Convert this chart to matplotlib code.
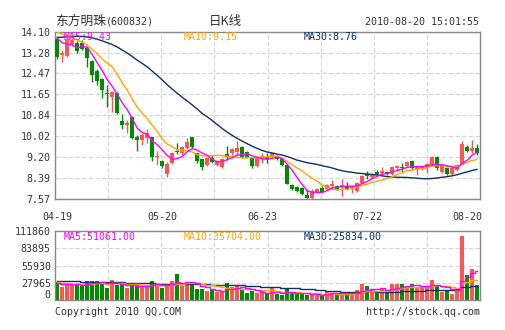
import matplotlib
matplotlib.use("Agg")
import matplotlib.pyplot as plt
import numpy as np
import pandas as pd

# daily candles 2010-04-19 .. 2010-08-20
opens = [13.81, 13.18, 13.15, 13.62, 13.66, 13.66, 13.46, 12.95, 12.56, 12.25,
         11.72, 11.54, 11.70, 10.60, 10.44, 10.76, 9.97, 9.86, 9.93, 9.97,
         9.19, 9.07, 8.56, 8.99, 9.46, 9.35, 9.54, 9.97, 9.35, 9.11,
         8.88, 9.15, 8.88, 8.80, 9.31, 9.35, 9.42, 9.58, 9.42, 9.20,
         8.84, 9.16, 9.20, 9.23, 9.23, 9.12, 8.88, 8.13, 8.05, 8.01,
         7.74, 7.62, 7.86, 8.01, 7.97, 8.09, 8.09, 8.05, 8.09, 7.97,
         7.90, 8.21, 8.56, 8.44, 8.64, 8.60, 8.64, 8.56, 8.76, 8.82,
         8.84, 9.07, 8.72, 8.76, 8.76, 8.91, 9.20, 8.64, 8.76, 8.56,
         8.72, 8.91, 9.58, 9.46, 9.54]
highs = [13.90, 13.38, 13.92, 13.85, 13.72, 13.78, 13.55, 13.00, 12.62, 12.30,
         12.02, 11.78, 11.75, 10.88, 10.64, 10.80, 10.05, 10.15, 10.29, 10.00,
         9.46, 9.10, 9.00, 9.40, 9.75, 9.62, 9.96, 9.99, 9.38, 9.14,
         9.20, 9.30, 9.10, 9.15, 9.62, 9.55, 9.82, 9.62, 9.46, 9.22,
         9.23, 9.38, 9.35, 9.40, 9.28, 9.16, 8.92, 8.17, 8.09, 8.05,
         7.97, 7.97, 8.01, 8.09, 8.17, 8.30, 8.13, 8.36, 8.25, 8.12,
         8.25, 8.52, 8.66, 8.60, 8.70, 8.80, 8.68, 8.84, 8.90, 8.98,
         9.04, 9.10, 8.84, 8.84, 8.99, 9.26, 9.23, 8.86, 8.80, 8.80,
         8.95, 9.85, 9.66, 9.86, 9.70]
lows = [13.03, 12.92, 13.12, 13.55, 13.25, 13.38, 12.72, 12.14, 12.01, 11.50,
        11.15, 10.95, 10.88, 10.30, 10.13, 9.90, 9.46, 9.66, 9.74, 9.07,
        8.88, 8.78, 8.44, 8.95, 9.33, 9.27, 9.50, 9.55, 8.96, 8.72,
        8.85, 8.96, 8.85, 8.76, 9.08, 9.30, 9.30, 9.18, 9.16, 8.78,
        8.80, 8.96, 8.98, 9.20, 9.10, 8.84, 8.15, 7.94, 7.83, 7.73,
        7.58, 7.58, 7.82, 7.84, 7.93, 7.97, 7.94, 7.70, 7.94, 7.80,
        7.86, 8.17, 8.36, 8.40, 8.50, 8.45, 8.52, 8.52, 8.72, 8.64,
        8.80, 8.72, 8.52, 8.70, 8.60, 8.86, 8.72, 8.60, 8.52, 8.52,
        8.68, 8.88, 9.40, 9.35, 9.30]
closes = [13.11, 13.28, 13.81, 13.78, 13.34, 13.42, 13.07, 12.40, 12.17, 11.82,
          11.68, 11.74, 10.91, 10.44, 10.52, 9.93, 9.86, 10.05, 10.13, 9.20,
          9.23, 8.84, 8.95, 9.35, 9.39, 9.58, 9.78, 9.58, 9.07, 8.80,
          9.15, 9.00, 9.07, 9.11, 9.20, 9.50, 9.54, 9.20, 9.20, 8.84,
          9.20, 9.23, 9.12, 9.35, 9.12, 8.88, 8.17, 7.97, 7.90, 7.78,
          7.62, 7.90, 7.97, 7.86, 8.13, 8.17, 7.97, 8.13, 7.97, 8.09,
          8.21, 8.48, 8.48, 8.56, 8.52, 8.68, 8.56, 8.80, 8.84, 8.79,
          9.00, 8.76, 8.80, 8.80, 8.95, 9.20, 8.76, 8.84, 8.56, 8.76,
          8.91, 9.70, 9.46, 9.54, 9.35]
volumes = [29600, 21300, 27500, 25600, 25100, 25100, 30900, 30900, 30900, 29300,
           19700, 32000, 25100, 25100, 19700, 24000, 24000, 24000, 22900, 30400,
           26700, 19700, 25100, 30400, 41600, 22900, 29300, 25600, 18700, 17600,
           14400, 17600, 13300, 14400, 27700, 21300, 22900, 17600, 11700, 14400,
           12300, 14400, 9600, 19700, 9600, 8000, 18700, 11700, 10700, 9600,
           8000, 9600, 9600, 9600, 14400, 11700, 9600, 13300, 9600, 10700,
           16000, 25600, 22400, 16000, 14400, 19700, 13300, 25600, 25600, 25600,
           22400, 25600, 21300, 22400, 22400, 32000, 24000, 13300, 14400, 10700,
           17600, 102900, 40000, 50700, 24000]

# sessions before the window, only used to warm up the moving averages
prior_closes = [13.10, 13.25, 13.40, 13.30, 13.55, 13.60, 13.50, 13.75, 13.70, 13.85,
                13.90, 13.80, 14.00, 13.95, 14.05, 14.10, 13.95, 14.15, 14.10, 14.20,
                14.30, 14.45, 14.40, 14.30, 14.30, 14.20, 14.05, 13.95, 13.90]
prior_volumes = [35000, 31000, 34000, 30500, 33000, 36000, 29500, 32000, 34500, 31000,
                 33500, 30000, 35500, 32500, 31500, 34000, 30500, 33000, 32000, 33000,
                 31000, 29500, 32000, 30000, 29500, 27000, 25500, 28000, 26000]

date_pos = [0, 21, 41, 62, 82]
date_labels = ["04-19", "05-20", "06-23", "07-22", "08-20"]
price_ticks = [7.57, 8.39, 9.20, 10.02, 10.84, 11.65, 12.47, 13.28, 14.10]
vol_ticks = [0, 27965, 55930, 83895, 111860]

RED = "#ff5555"
GREEN = "#008c00"
C_MA5 = "#ff00ff"
C_MA10 = "#ffa500"
C_MA30 = "#0a3366"
GRID = "#d4d4d4"
TXT = "#333333"
MONO = "DejaVu Sans Mono"
CJK = "Noto Sans CJK SC"

n = len(closes)
x = np.arange(n)
o = np.array(opens); c = np.array(closes)
up = c >= o
colors = [RED if u else GREEN for u in up]

cl = pd.Series(prior_closes + closes)
vo = pd.Series(prior_volumes + volumes, dtype=float)
k = len(prior_closes)
ma = {p: cl.rolling(p).mean().values[k:] for p in (5, 10, 30)}
vma = {p: vo.rolling(p).mean().values[k:] for p in (5, 10, 30)}

fig = plt.figure(figsize=(5.05, 3.30), dpi=100)
W, H = 505.0, 330.0
xlim = (-0.45, 84.6)


def style(ax):
    for s in ax.spines.values():
        s.set_color("#888888")
        s.set_linewidth(1.0)
    ax.set_xlim(xlim)
    for j in range(1, 8):
        ax.axvline(xlim[0] + j * (xlim[1] - xlim[0]) / 8, color=GRID,
                   lw=0.8, ls=(0, (4, 2)), zorder=0)
    ax.tick_params(length=0, labelsize=7.2, colors=TXT, pad=3)
    for t in ax.get_yticklabels():
        t.set_family(MONO)


# price panel
ax = fig.add_axes([55 / W, 1 - 199 / H, 425 / W, 167.5 / H])
ax.set_ylim(price_ticks[0], price_ticks[-1])
ax.set_yticks(price_ticks)
ax.set_yticklabels(["%.2f" % v for v in price_ticks])
for v in price_ticks[1:-1]:
    ax.axhline(v, color=GRID, lw=0.8, ls=(0, (4, 2)), zorder=0)
ax.vlines(x, lows, highs, colors=colors, lw=1, zorder=2)
body = np.maximum(np.abs(c - o), 0.02)
ax.bar(x, body, bottom=np.minimum(o, c), width=0.75, color=colors, zorder=3)
ax.plot(x, ma[30], color=C_MA30, lw=1, zorder=4)
ax.plot(x, ma[10], color=C_MA10, lw=1, zorder=4)
ax.plot(x, ma[5], color=C_MA5, lw=1, zorder=4)
ax.set_xticks(date_pos)
ax.set_xticklabels(date_labels, family=MONO)
style(ax)
ax.tick_params(axis="x", pad=9)

# volume panel
ax2 = fig.add_axes([55 / W, 1 - 300.3 / H, 425 / W, 69.6 / H])
ax2.set_ylim(vol_ticks[0], vol_ticks[-1])
ax2.set_yticks(vol_ticks)
ax2.set_yticklabels([str(v) for v in vol_ticks])
for v in vol_ticks[1:-1]:
    ax2.axhline(v, color=GRID, lw=0.8, ls=(0, (4, 2)), zorder=0)
ax2.bar(x, volumes, width=0.8, color=colors, zorder=2)
ax2.plot(x, vma[30], color=C_MA30, lw=1, drawstyle="steps-mid", zorder=3)
ax2.plot(x, vma[10], color=C_MA10, lw=1, drawstyle="steps-mid", zorder=3)
ax2.plot(x, vma[5], color=C_MA5, lw=1, drawstyle="steps-mid", zorder=3)
ax2.set_xticks([])
style(ax2)
# the zero label sits above the bottom edge in the original
ax2.get_yticklabels()[0].set_va("bottom")


def ftext(px, py, s, **kw):
    kw.setdefault("family", MONO)
    kw.setdefault("fontsize", 7.2)
    kw.setdefault("color", TXT)
    fig.text(px / W, 1 - py / H, s, va="center", **kw)


ftext(55, 21, "东方明珠", family=CJK, fontsize=9.2)
ftext(106, 22, "(600832)")
ftext(225, 21, "日K线", family=CJK, fontsize=9, ha="center")
ftext(479, 22, "2010-08-20 15:01:55", ha="right")

ftext(64, 37, "MA5:9.43", color=C_MA5)
ftext(184, 37, "MA10:9.15", color=C_MA10)
ftext(304, 37, "MA30:8.76", color=C_MA30)
ftext(64, 237, "MA5:51061.00", color=C_MA5)
ftext(184, 237, "MA10:35704.00", color=C_MA10)
ftext(304, 237, "MA30:25834.00", color=C_MA30)

ftext(55, 312, "Copyright 2010 QQ.COM")
ftext(480, 312, "http://stock.qq.com", ha="right")

plt.savefig("out.png", dpi=100)
plt.close()
